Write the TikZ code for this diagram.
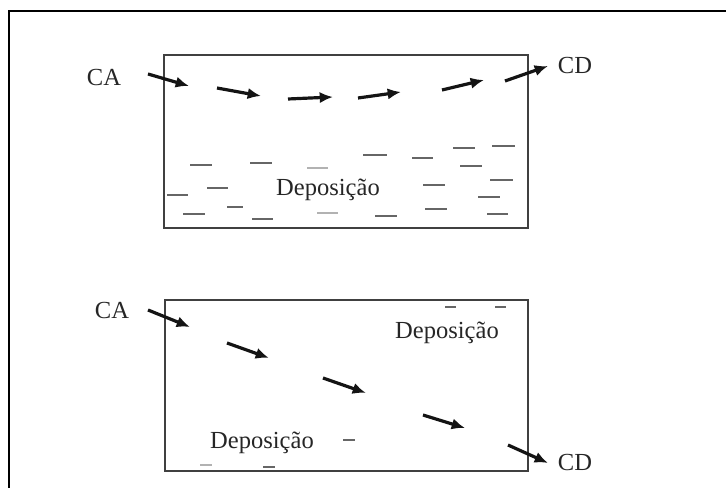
\documentclass[tikz,border=0pt]{standalone}
\usepackage{fontspec}
\setmainfont{Liberation Serif}
\usetikzlibrary{arrows.meta}
\begin{document}
\begin{tikzpicture}[x=0.75pt,y=-0.75pt,
  lbl/.style={font=\fontsize{18.4}{20}\selectfont, inner sep=0pt, text=black!85},
  flow/.style={line width=3.2pt*0.75, black!92, -{Latex[length=10pt,width=8.5pt]}},
  boxline/.style={line width=1.6pt*0.75, black!75},
  dep/.style={line width=1.8pt*0.75, black!60},
  depf/.style={line width=1.5pt*0.75, black!30}]
\useasboundingbox (0,0) rectangle (726,488);
% outer frame
\draw[line width=2.4pt*0.75] (9,488) -- (9,11) -- (726,11);
% ---------- top panel ----------
\draw[boxline] (164,55) rectangle (528,228);
\node[lbl] (ca1) at (104,78) {CA};
\node[lbl] (cd1) at (575,66) {CD};
\node[lbl] (dep1) at (328,190) {Deposição};
\draw[flow] (148,74) -- (189,86);
\draw[flow] (217,88) -- (261,96);
\draw[flow] (288,99) -- (333,97);
\draw[flow] (358,98) -- (401,92);
\draw[flow] (442,90) -- (484,80);
\draw[flow] (505,81) -- (548,66);
% deposition dashes
\foreach \xa/\xb/\yy in {190/212/165, 250/272/163, 363/387/155, 412/433/158,
  453/475/148, 492/515/146, 460/482/166, 207/228/188, 167/188/195, 423/445/185,
  490/513/180, 478/500/197, 183/205/214, 227/243/207, 252/273/219, 375/397/216,
  425/447/209, 487/508/214}
  \draw[dep] (\xa,\yy) -- (\xb,\yy);
\draw[depf] (307,168) -- (328,168);
\draw[depf] (317,213) -- (338,213);
% ---------- bottom panel ----------
\draw[boxline] (165,300) rectangle (528,471);
\node[lbl] (ca2) at (112,311) {CA};
\node[lbl] (cd2) at (575,463) {CD};
\node[lbl] (dep2) at (447,333) {Deposição};
\node[lbl] (dep3) at (262,443) {Deposição};
\draw[flow] (148,310) -- (190,327);
\draw[flow] (227,343) -- (269,358);
\draw[flow] (323,378) -- (366,393);
\draw[flow] (423,415) -- (465,428);
\draw[flow] (508,445) -- (548,463);
\draw[dep] (445,307) -- (456,307);
\draw[dep] (495,307) -- (506,307);
\draw[dep] (343,440) -- (355,440);
\draw[depf] (200,465) -- (212,465);
\draw[dep] (263,467) -- (275,467);
\end{tikzpicture}
\end{document}
